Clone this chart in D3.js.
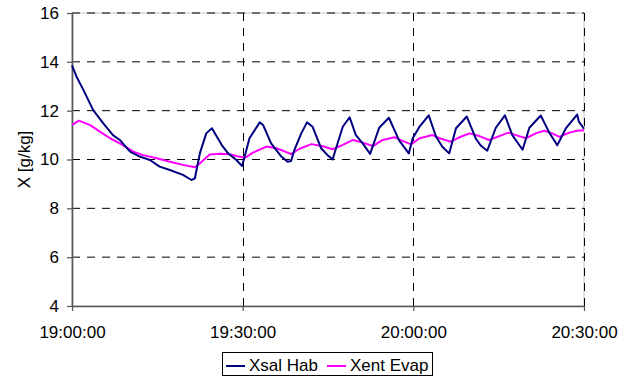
<!DOCTYPE html>
<html>
<head>
<meta charset="utf-8">
<script src="https://cdn.jsdelivr.net/npm/d3@7"></script>
<style>
  html, body { margin: 0; padding: 0; background: #fff; }
  svg { display: block; font-family: "Liberation Sans", Arial, sans-serif; }
</style>
</head>
<body>
<svg id="chart" width="628" height="376"></svg>
<script>
// Humidity ratio X [g/kg] — room outlet (Xsal Hab) and evaporator inlet (Xent Evap)
const xsalTimes = [
  "19:00:00","19:00:48","19:02:00","19:03:42","19:05:30","19:07:12","19:08:24","19:10:12",
  "19:11:54","19:13:42","19:15:24","19:17:12","19:19:30","19:21:00","19:21:36","19:22:30",
  "19:23:36","19:24:36","19:26:18","19:27:24","19:28:54","19:29:54","19:31:12","19:33:00",
  "19:33:36","19:35:00","19:36:48","19:37:54","19:38:30","19:39:06","19:40:18","19:41:18",
  "19:42:18","19:43:48","19:45:00","19:45:48","19:47:36","19:48:48","19:49:54","19:51:06",
  "19:52:24","19:54:00","19:55:42","19:57:30","19:59:12","19:59:54","20:01:06","20:02:42",
  "20:04:00","20:05:06","20:06:18","20:07:30","20:09:24","20:11:00","20:11:54","20:13:00",
  "20:14:30","20:16:06","20:17:24","20:19:12","20:20:24","20:22:24","20:23:54","20:25:18",
  "20:26:48","20:28:48","20:29:06","20:30:00"
];
const xsalValues = [
  13.85, 13.39, 12.85, 12.03, 11.48, 11.00, 10.80, 10.32,
  10.12, 9.98, 9.71, 9.57, 9.37, 9.16, 9.23, 10.27,
  11.07, 11.28, 10.60, 10.26, 9.98, 9.73, 10.87, 11.52,
  11.41, 10.66, 10.12, 9.91, 9.94, 10.39, 11.07, 11.52,
  11.34, 10.46, 10.16, 10.00, 11.34, 11.73, 11.00, 10.66,
  10.23, 11.30, 11.71, 10.78, 10.25, 10.87, 11.35, 11.81,
  10.93, 10.52, 10.25, 11.28, 11.76, 10.85, 10.56, 10.36,
  11.30, 11.81, 11.00, 10.40, 11.30, 11.80, 11.10, 10.58,
  11.27, 11.84, 11.55, 11.26
];

const xentTimes = [
  "19:00:00","19:01:12","19:03:12","19:04:54","19:06:42","19:08:24","19:10:48","19:12:30",
  "19:14:54","19:17:12","19:19:30","19:21:36","19:22:30","19:24:12","19:26:00","19:27:42",
  "19:28:54","19:30:24","19:31:48","19:34:12","19:35:54","19:37:06","19:38:30","19:40:00",
  "19:42:06","19:44:06","19:45:48","19:47:36","19:49:24","19:51:06","19:52:54","19:54:36",
  "19:56:42","19:58:06","19:59:36","20:01:06","20:03:24","20:04:36","20:06:36","20:08:06",
  "20:09:54","20:11:36","20:13:18","20:15:06","20:16:42","20:18:00","20:19:48","20:21:30",
  "20:23:00","20:24:24","20:25:42","20:27:24","20:28:48","20:30:00"
];
const xentValues = [
  11.41, 11.59, 11.41, 11.14, 10.87, 10.66, 10.32, 10.18,
  10.05, 9.91, 9.78, 9.68, 9.85, 10.20, 10.24, 10.22,
  10.14, 10.07, 10.28, 10.53, 10.46, 10.36, 10.22, 10.44,
  10.63, 10.54, 10.42, 10.60, 10.80, 10.69, 10.55, 10.80,
  10.91, 10.76, 10.62, 10.87, 11.00, 10.87, 10.73, 10.91,
  11.07, 10.96, 10.80, 10.96, 11.10, 11.00, 10.87, 11.07,
  11.18, 11.07, 10.93, 11.10, 11.18, 11.20
];

const yTicks = [4, 6, 8, 10, 12, 14, 16];
const xTickLabels = ["19:00:00", "19:30:00", "20:00:00", "20:30:00"];

const seriesNames = ["Xsal Hab", "Xent Evap"];
const seriesColors = ["#000080", "#ff00ff"];

const parseTime = d3.timeParse("%H:%M:%S");
const fmtTime = d3.timeFormat("%H:%M:%S");

const svg = d3.select("#chart");
const plot = { left: 72, right: 584, top: 13, bottom: 306 };

const x = d3.scaleTime()
  .domain([parseTime(xTickLabels[0]), parseTime(xTickLabels[xTickLabels.length - 1])])
  .range([plot.left, plot.right]);
const y = d3.scaleLinear()
  .domain([d3.min(yTicks), d3.max(yTicks)])
  .range([plot.bottom, plot.top]);

const xTickDates = xTickLabels.map(parseTime);

// plot-area frame
svg.append("rect")
  .attr("x", plot.left).attr("y", plot.top)
  .attr("width", plot.right - plot.left).attr("height", plot.bottom - plot.top)
  .attr("fill", "none").attr("stroke", "#c0c0c0").attr("stroke-width", 1);

// dashed grid
const grid = svg.append("g");
grid.selectAll("line.h").data(yTicks.filter(v => v > d3.min(yTicks)))
  .join("line").attr("class", "h")
  .attr("x1", plot.left).attr("x2", plot.right)
  .attr("y1", d => y(d)).attr("y2", d => y(d))
  .attr("stroke", "#000").attr("stroke-width", 1)
  .attr("stroke-dasharray", "8,7");
grid.selectAll("line.v").data(xTickDates.slice(1))
  .join("line").attr("class", "v")
  .attr("x1", d => Math.round(x(d)) + 0.5).attr("x2", d => Math.round(x(d)) + 0.5)
  .attr("y1", plot.top).attr("y2", plot.bottom)
  .attr("stroke", "#000").attr("stroke-width", 1)
  .attr("stroke-dasharray", "8,7");

// axes
const yAxis = svg.append("g")
  .attr("transform", `translate(${plot.left},0)`)
  .call(d3.axisLeft(y).tickValues(yTicks).tickSize(5).tickPadding(8).tickSizeOuter(0));
const xAxis = svg.append("g")
  .attr("transform", `translate(0,${plot.bottom})`)
  .call(d3.axisBottom(x).tickValues(xTickDates).tickFormat(fmtTime)
    .tickSize(5).tickPadding(15).tickSizeOuter(0));

[yAxis, xAxis].forEach(g => {
  g.select(".domain").attr("stroke", "#555").attr("stroke-width", 1.6);
  g.selectAll(".tick line").attr("stroke", "#555").attr("stroke-width", 1.2);
  g.selectAll(".tick text")
    .attr("fill", "#000")
    .style("font-size", "17px")
    .style("font-family", "'Liberation Sans', Arial, sans-serif");
});
xAxis.selectAll(".tick text").attr("dy", "0.71em");

// y-axis title
svg.append("text")
  .attr("transform", `translate(30,${(plot.top + plot.bottom) / 2}) rotate(-90)`)
  .attr("text-anchor", "middle")
  .style("font-size", "17px")
  .attr("fill", "#000")
  .text("X [g/kg]");

// series lines
const seriesData = [
  xsalTimes.map((t, i) => ({ t: parseTime(t), v: xsalValues[i] })),
  xentTimes.map((t, i) => ({ t: parseTime(t), v: xentValues[i] }))
];
const line = d3.line().x(d => x(d.t)).y(d => y(d.v));

const lines = svg.append("g");
[1, 0].forEach(i => {
  lines.append("path")
    .datum(seriesData[i])
    .attr("fill", "none")
    .attr("stroke", seriesColors[i])
    .attr("stroke-width", 2)
    .attr("stroke-linejoin", "round")
    .attr("d", line);
});

// legend
const legend = svg.append("g");
legend.append("rect")
  .attr("x", 222.5).attr("y", 352.5).attr("width", 210).attr("height", 23)
  .attr("fill", "#fff").attr("stroke", "#000").attr("stroke-width", 1);
const legendX = [226, 327];
seriesNames.forEach((name, i) => {
  legend.append("line")
    .attr("x1", legendX[i]).attr("x2", legendX[i] + 19)
    .attr("y1", 366).attr("y2", 366)
    .attr("stroke", seriesColors[i]).attr("stroke-width", 2);
  legend.append("text")
    .attr("x", legendX[i] + 23).attr("y", 371)
    .style("font-size", "17px")
    .attr("fill", "#000")
    .text(name);
});
</script>
</body>
</html>
